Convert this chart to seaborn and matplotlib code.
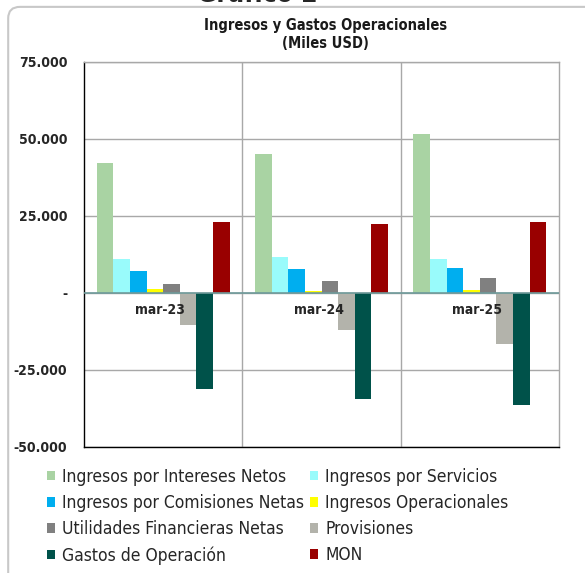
import pandas as pd
import matplotlib.pyplot as plt
import seaborn as sns
from matplotlib.patches import FancyBboxPatch
from matplotlib.ticker import FuncFormatter

# ---------------------------------------------------
# Data (Miles USD)
# ---------------------------------------------------

periodos = ["mar-23", "mar-24", "mar-25"]

series = [
    "Ingresos por Intereses Netos",
    "Ingresos por Servicios",
    "Ingresos por Comisiones Netas",
    "Ingresos Operacionales",
    "Utilidades Financieras Netas",
    "Provisiones",
    "Gastos de Operación",
    "MON",
]

intereses_netos = [42300, 45100, 51500]
servicios = [10900, 11600, 10900]
comisiones_netas = [7250, 7700, 8000]
ingresos_operacionales = [1400, 700, 1100]
utilidades_financieras = [2900, 4000, 4800]
provisiones = [-10400, -12000, -16500]
gastos_operacion = [-31300, -34500, -36500]
mon = [23000, 22300, 23000]

colores = ["#A9D3A3", "#99FBFB", "#00AEEF", "#FFFF00",
           "#808080", "#B3B3AB", "#00524A", "#990000"]

valores = [intereses_netos, servicios, comisiones_netas, ingresos_operacionales,
           utilidades_financieras, provisiones, gastos_operacion, mon]

rows = []
for nombre, vals in zip(series, valores):
    for p, v in zip(periodos, vals):
        rows.append({"periodo": p, "serie": nombre, "valor": v})
df = pd.DataFrame(rows)

# ---------------------------------------------------
# Plot
# ---------------------------------------------------

sns.set_style("white")
plt.rcParams["font.family"] = ["DejaVu Sans"]
plt.rcParams["font.stretch"] = "condensed"

fig = plt.figure(figsize=(5.85, 5.73), dpi=100)

# outer rounded frame
frame = FancyBboxPatch((0.014, -0.05), 1.05, 1.038, boxstyle="round,pad=0,rounding_size=0.02",
                       transform=fig.transFigure, fill=False, edgecolor="#C8C8C8", linewidth=1.5)
fig.patches.append(frame)

# chart number, cut by the top edge as in the source
fig.text(0.44, 0.997, "Gráfico 2", ha="center", va="baseline", fontsize=19, fontweight="bold")
fig.text(0.557, 0.956, "Ingresos y Gastos Operacionales", ha="center", va="center",
         fontsize=10.5, fontweight="bold", color="#1a1a1a")
fig.text(0.557, 0.924, "(Miles USD)", ha="center", va="center",
         fontsize=10.5, fontweight="bold", color="#1a1a1a")

ax = fig.add_axes([0.1436, 0.2199, 0.812, 0.672])

sns.barplot(data=df, x="periodo", y="valor", hue="serie", hue_order=series,
            palette=colores, width=0.84, saturation=1, linewidth=0, ax=ax, legend=True)

ax.set_ylim(-50000, 75000)
ax.set_xlim(-0.5, len(periodos) - 0.5)
ax.set_yticks([75000, 50000, 25000, 0, -25000, -50000])
ax.yaxis.set_major_formatter(FuncFormatter(
    lambda v, _: "-" if v == 0 else f"{v:,.0f}".replace(",", ".")))
ax.grid(axis="y", color="#A8A8A8", linewidth=1)
ax.set_axisbelow(True)
for i in range(1, len(periodos)):
    ax.axvline(i - 0.5, color="#A8A8A8", linewidth=1, zorder=0)
ax.axhline(0, color="#6E9A9A", linewidth=1.2, zorder=3)

ax.set_xticks([])
ax.set_xlabel("")
ax.set_ylabel("")
for i, p in enumerate(periodos):
    ax.annotate(p, xy=(i, 0), xytext=(-2, -7), textcoords="offset points",
                ha="center", va="top", fontsize=10, fontweight="bold", zorder=5)

for lab in ax.get_yticklabels():
    lab.set_fontweight("bold")
    lab.set_fontsize(10)
ax.tick_params(axis="y", length=0, pad=12)

ax.spines["left"].set_color("black")
ax.spines["bottom"].set_color("black")
ax.spines["top"].set_color("#A8A8A8")
ax.spines["right"].set_color("#A8A8A8")
for s in ax.spines.values():
    s.set_linewidth(1)

handles, labels = ax.get_legend_handles_labels()
ax.get_legend().remove()
order = [0, 2, 4, 6, 1, 3, 5, 7]
fig.legend([handles[k] for k in order], [labels[k] for k in order],
           loc="upper left", bbox_to_anchor=(0.068, 0.196), ncol=2, frameon=False,
           fontsize=12.5, handlelength=0.5, handleheight=0.5, handletextpad=0.4,
           columnspacing=0.3, labelspacing=0.47, borderaxespad=0)

fig.savefig("out.png", dpi=100)
plt.close()
